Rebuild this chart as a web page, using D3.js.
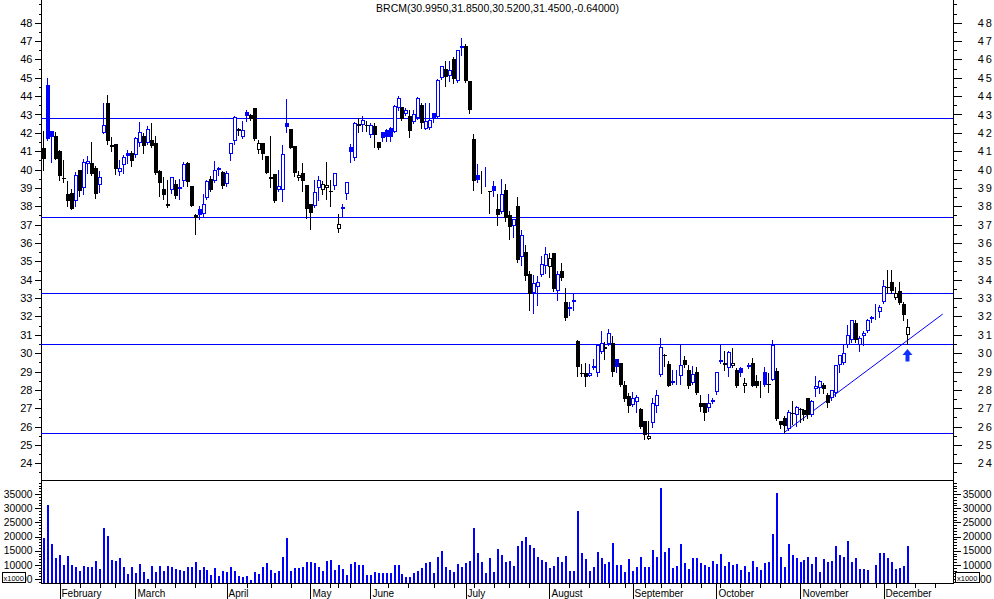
<!DOCTYPE html>
<html><head><meta charset="utf-8">
<script src="https://cdn.jsdelivr.net/npm/d3@7"></script>
<style>
body{margin:0;background:#fff}
svg{display:block}
text{font-family:"Liberation Sans",Arial,sans-serif;fill:#000}
</style>
</head><body>
<svg id="chart" width="994" height="599"></svg>
<script>
const title = "BRCM(30.9950,31.8500,30.5200,31.4500,-0.64000)";

const opens = [41.15,44.6,42.1,41.85,41.0,39.55,38.65,38.7,38.3,40.0,39.0,40.3,40.35,40.1,39.15,42.0,43.6,41.35,41.4,39.85,
40.25,40.9,40.9,40.8,41.45,41.85,41.45,41.6,41.45,39.9,38.95,38.0,38.9,39.2,39.05,39.35,40.35,39.1,37.55,37.85,
37.6,38.45,39.5,39.4,39.95,39.85,39.2,40.85,41.55,42.2,41.75,43.15,42.95,43.35,41.05,41.45,40.75,39.6,39.75,38.9,
38.9,42.55,42.2,41.3,39.55,39.8,39.15,38.15,38.0,39.0,38.9,39.0,38.85,39.1,36.75,37.85,38.65,41.25,40.65,42.5,
42.45,42.45,41.9,42.4,41.5,42.05,42.15,42.25,42.05,43.35,43.4,43.05,42.9,42.6,42.8,43.5,42.2,42.25,43.1,42.85,
45.0,45.5,45.1,46.0,44.85,46.6,46.75,44.85,41.65,39.7,38.7,39.3,38.85,39.1,37.85,37.7,38.9,37.5,36.95,38.0,
35.25,35.5,34.32,33.27,33.6,34.26,34.75,34.68,35.48,33.41,34.45,32.8,32.4,32.8,30.67,28.9,28.9,28.77,29.31,28.91,
30.04,30.36,30.51,30.54,29.67,29.45,28.28,27.68,27.19,27.32,26.97,26.28,25.32,26.19,27.13,28.82,29.91,29.42,28.46,28.9,
28.77,29.64,29.09,28.4,28.95,27.28,27.28,27.01,27.46,27.86,29.64,29.45,29.18,29.31,29.09,29.18,28.19,29.24,29.45,28.46,
28.08,28.95,28.3,28.55,29.04,26.28,26.46,25.87,26.75,26.64,26.95,26.92,27.55,26.64,28.04,28.1,28.28,27.73,27.55,27.82,
29.36,29.45,30.45,30.73,31.63,30.45,30.95,31.23,31.95,32.25,32.25,32.81,33.6,33.9,32.99,33.39,32.69,30.995];

const highs = [42.1,45.0,42.1,42.05,41.05,40.5,39.4,38.95,39.85,40.0,40.55,40.75,41.5,40.2,39.9,43.6,44.05,41.8,41.4,40.5,
40.8,41.05,41.0,41.8,42.6,42.0,42.35,42.55,41.85,40.0,39.6,39.45,39.6,39.45,39.5,40.4,40.4,39.1,37.6,38.0,
38.65,39.45,39.65,40.45,40.15,39.9,39.9,41.45,42.9,42.25,42.65,43.25,43.0,43.35,41.6,41.45,40.75,41.85,39.75,40.0,
41.35,43.85,42.2,41.3,39.9,40.35,39.15,38.15,39.45,39.65,39.35,40.4,39.45,39.8,37.6,38.15,39.3,41.4,42.6,42.8,
42.9,42.65,42.55,42.55,41.5,42.05,42.2,42.3,43.5,44.0,43.4,43.35,43.25,43.25,43.95,43.6,43.6,43.6,43.1,44.95,
45.65,45.9,45.9,46.15,46.5,47.15,46.85,44.85,41.95,40.3,39.9,40.15,38.85,39.35,38.65,39.5,39.2,37.75,37.3,38.5,
36.7,35.9,34.45,34.27,34.2,35.3,35.77,35.48,35.48,34.45,34.9,33.54,32.81,33.27,30.73,29.42,29.49,29.42,29.67,30.45,
31.18,30.63,31.3,30.94,29.67,29.45,28.46,27.82,27.91,27.73,27.0,26.33,26.33,27.55,27.97,30.82,29.95,29.55,29.09,29.09,
30.5,29.85,29.36,29.31,29.24,27.73,27.31,27.79,27.55,28.95,30.45,30.09,30.14,30.27,29.18,29.27,28.64,29.45,29.73,28.82,
28.46,29.27,28.91,30.73,29.18,26.28,26.55,26.92,27.42,27.1,27.0,26.95,27.55,27.46,28.77,28.55,28.37,27.82,28.0,29.36,
29.91,30.5,31.54,31.82,31.82,30.91,31.18,31.85,32.0,32.69,32.63,33.99,34.54,34.54,33.63,33.85,32.76,31.85];

const lows = [40.0,41.6,40.4,40.55,39.45,39.3,38.0,37.85,38.0,38.55,38.65,39.8,39.7,38.45,38.8,42.0,41.4,41.0,39.75,39.7,
39.8,40.35,40.2,40.7,41.3,40.9,41.4,41.25,39.75,38.55,38.4,37.95,38.75,38.45,38.4,39.1,39.1,38.0,36.5,37.3,
37.4,38.4,38.85,39.3,39.7,39.0,39.1,40.5,41.4,41.9,41.7,42.65,42.7,41.6,40.9,40.55,39.8,39.05,38.25,38.85,
38.3,42.05,41.15,39.65,39.45,38.85,37.35,36.75,37.95,38.35,38.65,38.4,38.0,38.95,36.6,37.45,38.4,40.4,40.5,42.05,
42.1,42.1,41.75,41.25,41.1,41.55,41.55,41.55,42.05,43.25,42.7,42.95,41.8,42.55,42.75,42.25,42.2,42.2,42.6,42.8,
44.95,44.55,44.8,44.7,44.75,46.25,44.75,43.1,38.9,39.3,38.7,39.1,37.65,38.55,37.0,37.65,37.2,36.2,36.35,34.95,
34.8,34.0,32.36,32.18,32.63,34.2,34.39,34.17,33.4,32.87,33.99,31.82,32.09,32.36,28.77,28.73,28.22,28.73,29.13,28.77,
30.0,29.68,30.45,28.73,29.0,28.22,27.42,26.77,27.1,26.77,25.92,25.32,25.32,26.0,26.77,28.73,29.31,28.19,28.3,28.33,
28.33,29.27,28.1,28.33,27.79,26.83,26.34,26.83,27.28,27.79,29.45,29.09,28.77,29.24,28.15,28.77,27.86,29.18,28.19,28.15,
27.6,28.19,27.86,28.55,26.37,25.92,25.65,25.83,26.15,26.01,26.23,26.37,26.46,26.59,27.64,27.82,27.82,27.06,27.46,27.68,
29.0,29.42,30.33,30.63,30.63,30.09,30.45,31.13,31.67,31.85,31.96,32.72,33.27,33.27,32.94,32.69,31.78,30.52];

const closes = [40.6,41.65,41.8,40.6,39.65,39.5,38.3,37.85,39.7,38.85,40.4,40.45,39.75,38.65,39.6,42.45,41.55,41.25,40.05,40.1,
40.7,40.75,40.45,41.7,42.05,41.3,42.2,41.3,39.8,39.25,38.6,38.15,39.6,38.55,38.95,40.3,39.3,38.0,37.35,37.5,
38.15,39.35,38.9,40.0,40.1,39.1,39.8,41.45,42.85,42.1,42.15,42.9,42.75,41.65,41.45,40.85,39.8,39.5,38.3,39.1,
40.85,42.3,41.2,39.8,39.7,39.35,37.85,37.65,38.8,39.45,39.2,39.15,38.8,39.8,37.05,37.95,39.3,40.95,42.55,42.4,
42.7,42.4,42.45,41.9,41.15,41.7,41.75,41.8,43.45,43.9,42.75,43.25,42.1,43.0,43.9,42.55,42.65,42.7,42.75,44.9,
45.65,45.05,45.45,44.95,46.5,46.75,44.85,43.25,39.4,39.45,38.8,39.4,38.8,38.85,37.5,38.65,37.35,36.85,37.3,35.1,
36.45,34.18,33.23,33.8,33.87,34.86,35.4,35.17,33.48,34.32,34.12,31.9,32.54,32.92,29.24,28.85,28.7,28.92,29.2,30.45,
30.54,30.22,31.09,28.95,29.27,28.28,27.5,27.13,27.55,27.6,25.97,25.56,25.5,27.28,27.73,30.33,29.82,28.22,28.35,28.95,
29.36,29.33,28.19,28.88,27.82,27.06,26.73,27.28,27.33,28.95,29.5,29.38,30.04,29.45,28.22,28.91,28.37,29.36,28.22,28.2,
28.17,28.28,28.25,30.45,26.41,26.1,26.01,26.77,26.7,27.06,26.9,26.64,26.62,27.37,28.19,28.46,28.04,27.28,28.0,29.36,
29.91,30.0,31.0,31.78,30.73,30.82,31.09,31.82,31.86,32.3,32.54,33.67,33.55,33.36,33.27,32.72,32.09,31.45];

const volumes = [19600,31100,17240,12540,13480,9950,13130,9950,9250,7840,9600,9250,9130,11360,8540,23120,20300,11720,11360,12540,
9130,6780,9250,7010,10190,7360,5010,9720,7600,9720,7840,9720,9250,8540,8190,7840,9250,9250,10900,8190,
9250,8190,6430,8780,6190,7840,7600,9130,7840,6190,5720,6070,4780,7360,6900,9250,10540,8190,7010,7960,
12780,19360,7840,8780,8780,9250,10900,10900,10540,9250,7840,11360,11720,8190,9950,8540,6430,10190,10900,9950,
9950,6430,6430,7360,7010,7010,7010,7010,9950,9950,6780,5720,5720,7240,7840,8780,10540,10900,7010,12780,
14890,9130,8190,7600,10300,9250,10540,11360,23120,14070,10900,7010,12300,7360,15600,13480,10900,11360,9720,16770,
18420,19700,17010,16070,12890,11720,10900,8780,9720,12780,10900,13250,7840,7840,29000,14070,12070,7840,9130,14660,
12300,10190,10900,17600,9950,9950,7600,12070,7840,9250,12780,9130,9250,15130,12780,37240,14660,15830,9010,9720,
17360,10540,8540,12540,12540,10540,9950,9250,11360,10190,13720,9720,10900,9950,10190,8190,9720,7600,11360,9250,
8190,10660,11130,20890,35240,12780,9250,17360,13480,12300,10900,11600,12780,10190,12780,7600,12070,10900,11360,16770,
13480,12780,18420,11130,12300,8430,8540,8190,3000,9950,14070,14070,12300,10900,8540,8780,9600,16770];

const monthLabels = ["February","March","April","May","June","July","August","September","October","November","December"];
const monthStarts = [4,23,46,67,82,106,127,148,169,190,211];
const weekTicks = [9,14,18,28,33,38,42,51,57,62,72,74,77,86.5,91.5,98,103,108,113,117,122,132,137,142,146,151,155,160,165,170,175,180,185,195,200,205,209,214,219,224];

const priceLevels = [42.8,37.41,33.27,30.49,25.65];
const trendLine = [[186.1,25.67],[226,32.13]];
const arrowPoint = [217,30.22];

const priceMajor = d3.range(24,49,1);
const priceMinor = d3.range(23.5,49.5,0.5).filter(v=>!Number.isInteger(v) || v===49);
const volMajor = d3.range(10000,40000,5000);
const volHidden = [5000];
const volMinor = d3.range(4000,39001,1000).filter(v=>v%5000!==0);

// ---- layout
const L = 41, R = 953, PT = 0, PB = 480, VB = 583;
const BLUE = "#0000ff", BLACK = "#000000";

const svg = d3.select("#chart");
const x = d3.scaleLinear().domain([0, 217]).range([43.3, 43.3 + 217*3.98]);
const yP = d3.scaleLinear().domain([48, 24]).range([22.7, 463.3]);
const yV = d3.scaleLinear().domain([35000, 5000]).range([494, 579]);

const data = opens.map((o,i)=>({i, o, h:highs[i], l:lows[i], c:closes[i], v:volumes[i],
  up: i>0 && closes[i] > closes[i-1]}));

// clip regions for the volume labels partly covered by the "x1000" boxes
const defs = svg.append("defs");
defs.append("clipPath").attr("id","clipL").append("rect").attr("x",-16).attr("y",-12).attr("width",12).attr("height",24);
defs.append("clipPath").attr("id","clipR").append("rect").attr("x",26.5).attr("y",-12).attr("width",20).attr("height",24);

// ---- title
svg.append("text").attr("x",497.5).attr("y",12.3).attr("text-anchor","middle")
  .style("font-size","10.5px").text(title);

// ---- frame lines
const frame = svg.append("g").attr("shape-rendering","crispEdges").attr("stroke",BLACK);
frame.append("line").attr("x1",L+0.5).attr("x2",L+0.5).attr("y1",PT).attr("y2",VB+0.5);
frame.append("line").attr("x1",R+0.5).attr("x2",R+0.5).attr("y1",PT).attr("y2",VB+0.5);
frame.append("line").attr("x1",L).attr("x2",R+1).attr("y1",PB+0.5).attr("y2",PB+0.5);
frame.append("line").attr("x1",L).attr("x2",R+1).attr("y1",VB+0.5).attr("y2",VB+0.5);

// ---- price axes
function styleAxis(g){ g.select(".domain").remove(); g.attr("shape-rendering","crispEdges");
  g.selectAll("text").style("font-family","'Liberation Sans',Arial,sans-serif"); }
svg.append("g").attr("transform",`translate(${L+0.5},0)`)
  .call(d3.axisLeft(yP).tickValues(priceMinor).tickSize(3).tickFormat(""))
  .call(styleAxis);
svg.append("g").attr("transform",`translate(${L+0.5},0)`)
  .call(d3.axisLeft(yP).tickValues(priceMajor).tickSize(7).tickPadding(2).tickFormat(d3.format("d")))
  .call(styleAxis).selectAll("text").style("font-size","11px");
svg.append("g").attr("transform",`translate(${R+0.5},0)`)
  .call(d3.axisRight(yP).tickValues(priceMinor).tickSize(3).tickFormat(""))
  .call(styleAxis);
const rp = svg.append("g").attr("transform",`translate(${R+0.5},0)`)
  .call(d3.axisRight(yP).tickValues(priceMajor).tickSize(8).tickFormat(d3.format("d")))
  .call(styleAxis);
rp.selectAll("text").attr("text-anchor","end").attr("x",40.5)
  .style("font-size","11px").style("letter-spacing","2px");

// ---- volume axes
svg.append("g").attr("transform",`translate(${L+0.5},0)`)
  .call(d3.axisLeft(yV).tickValues(volMinor).tickSize(3).tickFormat(""))
  .call(styleAxis);
svg.append("g").attr("transform",`translate(${L+0.5},0)`)
  .call(d3.axisLeft(yV).tickValues(volMajor).tickSize(7).tickPadding(2).tickFormat(d3.format("d")))
  .call(styleAxis).selectAll("text").style("font-size","10.3px");
const lh = svg.append("g").attr("transform",`translate(${L+0.5},0)`)
  .call(d3.axisLeft(yV).tickValues(volHidden).tickSize(7).tickPadding(2).tickFormat(d3.format("d")))
  .call(styleAxis);
lh.selectAll("text").style("font-size","10.3px").attr("clip-path","url(#clipL)");
svg.append("g").attr("transform",`translate(${R+0.5},0)`)
  .call(d3.axisRight(yV).tickValues(volMinor).tickSize(3).tickFormat(""))
  .call(styleAxis);
const rv = svg.append("g").attr("transform",`translate(${R+0.5},0)`)
  .call(d3.axisRight(yV).tickValues(volMajor).tickSize(7).tickFormat(d3.format("d")))
  .call(styleAxis);
rv.selectAll("text").attr("text-anchor","end").attr("x",38).style("font-size","10.3px");
const rh = svg.append("g").attr("transform",`translate(${R+0.5},0)`)
  .call(d3.axisRight(yV).tickValues(volHidden).tickSize(7).tickFormat(d3.format("d")))
  .call(styleAxis);
rh.selectAll("text").attr("text-anchor","end").attr("x",38).style("font-size","10.3px")
  .attr("clip-path","url(#clipR)");

// x1000 boxes
[[2.5,25],[955.5,979]].forEach(([a,b])=>{
  svg.append("rect").attr("x",a).attr("y",572.5).attr("width",b-a).attr("height",9.5)
    .attr("fill","#fff").attr("stroke",BLACK).attr("shape-rendering","crispEdges");
  svg.append("text").attr("x",(a+b)/2).attr("y",580.5).attr("text-anchor","middle")
    .style("font-size","7.5px").text("x1000");
});

// ---- x axis
svg.append("g").attr("transform",`translate(0.5,${VB})`)
  .call(d3.axisBottom(x).tickValues(weekTicks).tickSize(5).tickFormat(""))
  .call(styleAxis);
svg.append("g").attr("transform",`translate(0.5,${VB})`)
  .call(d3.axisBottom(x).tickValues(monthStarts).tickSize(16).tickFormat(""))
  .call(styleAxis);
svg.append("g").selectAll("text").data(monthLabels).join("text")
  .attr("x",(d,k)=>Math.round(x(monthStarts[k]))+2.5).attr("y",597.3)
  .style("font-size","10px").text(d=>d);

// ---- horizontal levels
svg.append("g").attr("shape-rendering","crispEdges").selectAll("line").data(priceLevels).join("line")
  .attr("x1",L).attr("x2",R).attr("y1",d=>Math.round(yP(d))+0.5).attr("y2",d=>Math.round(yP(d))+0.5)
  .attr("stroke",BLUE);

// ---- trend line
svg.append("line")
  .attr("x1",x(trendLine[0][0])).attr("y1",yP(trendLine[0][1]))
  .attr("x2",x(trendLine[1][0])).attr("y2",yP(trendLine[1][1]))
  .attr("stroke",BLUE).attr("stroke-width",1);

// ---- candles
const cg = svg.append("g").attr("shape-rendering","crispEdges");
const px = d => Math.round(x(d.i));
const col = d => d.up ? BLUE : BLACK;
cg.selectAll("line.wick").data(data).join("line").attr("class","wick")
  .attr("x1",d=>px(d)+0.5).attr("x2",d=>px(d)+0.5)
  .attr("y1",d=>Math.round(yP(d.h))).attr("y2",d=>Math.round(yP(d.l))+1)
  .attr("stroke",col);
cg.selectAll("rect.filled").data(data.filter(d=>d.c<=d.o)).join("rect").attr("class","filled")
  .attr("x",d=>px(d)-1).attr("width",4)
  .attr("y",d=>Math.round(yP(d.o)))
  .attr("height",d=>Math.max(1,Math.round(yP(d.c))-Math.round(yP(d.o))))
  .attr("fill",col);
cg.selectAll("rect.hollow").data(data.filter(d=>d.c>d.o)).join("rect").attr("class","hollow")
  .attr("x",d=>px(d)-0.5).attr("width",3)
  .attr("y",d=>Math.round(yP(d.c))+0.5)
  .attr("height",d=>Math.max(0,Math.round(yP(d.o))-Math.round(yP(d.c))-1))
  .attr("fill","#fff").attr("stroke",col);

// ---- volume bars
svg.append("g").attr("shape-rendering","crispEdges").selectAll("rect").data(data).join("rect")
  .attr("x",d=>px(d)).attr("width",2)
  .attr("y",d=>Math.min(VB,Math.round(yV(d.v))))
  .attr("height",d=>Math.max(0,VB-Math.round(yV(d.v))))
  .attr("fill",BLUE);

// ---- arrow
const ax = Math.round(x(arrowPoint[0]))+0.5, ay = yP(arrowPoint[1]);
svg.append("path")
  .attr("d",`M${ax},${ay} L${ax+5},${ay+6} L${ax+2},${ay+6} L${ax+2},${ay+12.5} L${ax-2},${ay+12.5} L${ax-2},${ay+6} L${ax-5},${ay+6} Z`)
  .attr("fill","#1030ff");
</script>
</body></html>
